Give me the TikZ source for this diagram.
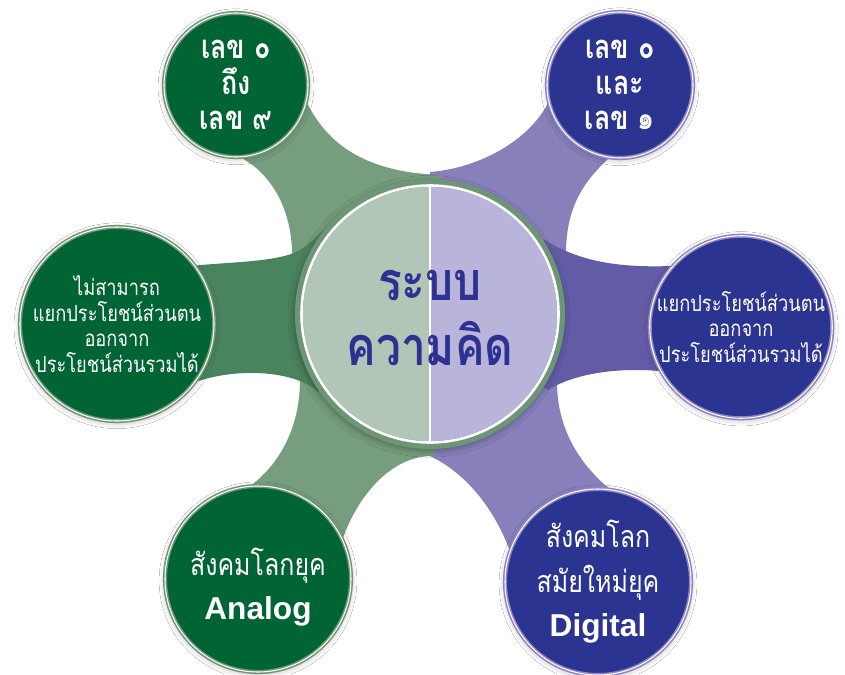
\documentclass[tikz,border=0pt]{standalone}
\usepackage{fontspec}
\newfontfamily\thaifont[Script=Thai, FakeStretch=0.82]{Loma}
\newfontfamily\latinfont{Liberation Sans}
\usetikzlibrary{calc,shadows.blur}
\pgfdeclarelayer{background}
\pgfsetlayers{background,main}

\definecolor{deepgreen}{RGB}{0,100,52}
\definecolor{sage}{RGB}{118,158,126}
\definecolor{moss}{RGB}{74,132,95}
\definecolor{greenrim}{RGB}{110,150,118}
\definecolor{deepblue}{RGB}{44,52,145}
\definecolor{lilac}{RGB}{135,128,187}
\definecolor{violet}{RGB}{98,91,166}
\definecolor{bluerim}{RGB}{140,132,196}
\definecolor{coreleft}{RGB}{178,198,183}
\definecolor{coreright}{RGB}{185,181,218}
\definecolor{inkblue}{RGB}{46,49,146}

\begin{document}
\begin{tikzpicture}[
        x=0.03cm, y=-0.03cm,
        ball/.style={circle, inner sep=0pt, outer sep=0pt, minimum size=#1,
                     line width=1.3pt, double=white, double distance=0.9pt,
                     align=center, text=white,
                     blur shadow={shadow xshift=0pt, shadow yshift=-1.5pt,
                                  shadow blur radius=5pt, shadow opacity=30}},
        greenball/.style={ball=#1, fill=deepgreen, draw=greenrim},
        blueball/.style={ball=#1, fill=deepblue, draw=bluerim},
        small/.style={font=\thaifont\fontsize{19}{22}\selectfont},
        large/.style={font=\thaifont\bfseries\fontsize{28}{30}\selectfont},
        wide/.style={font=\thaifont\fontsize{26}{38}\selectfont}
    ]
        \useasboundingbox (0,0) rectangle (845,674);

        % centre
        \node[circle, inner sep=0pt, outer sep=0pt, minimum size=8.1cm, fill=greenrim,
              blur shadow={shadow xshift=-1pt, shadow yshift=-2pt, shadow blur radius=5pt, shadow opacity=30}]
              (core) at (430,314) {};
        \begin{scope}
            \clip (core.center) circle[radius=127];
            \fill[coreleft] ($(core.center)+(-130,-130)$) rectangle ($(core.center)+(0,130)$);
            \fill[coreright] ($(core.center)+(0,-130)$) rectangle ($(core.center)+(130,130)$);
        \end{scope}
        \draw[white, line width=2.2pt] (core.center) circle[radius=128.5];
        \draw[white, line width=2pt] ($(core.center)+(0,-128)$) -- ($(core.center)+(0,128)$);
        \node[font=\thaifont\bfseries\fontsize{46}{55}\selectfont, text=inkblue, align=center]
              (title) at (430,318) {ระบบ\\ความคิด};

        % outer balls
        \node[greenball=4.32cm, large] (zeronine) at (236,85) {เลข ๐\\ถึง\\เลข ๙};
        \node[blueball=4.38cm, large] (zeroone) at (620,85) {เลข ๐\\และ\\เลข ๑};
        \node[greenball=5.34cm, small] (noself) at (117,324)
              {ไม่สามารถ\\แยกประโยชน์ส่วนตน\\ออกจาก\\ประโยชน์ส่วนรวมได้};
        \node[blueball=5.34cm, small] (self) at (741,327)
              {แยกประโยชน์ส่วนตน\\ออกจาก\\ประโยชน์ส่วนรวมได้};
        \node[greenball=5.58cm, wide] (analog) at (258,579)
              {\raisebox{-7pt}[\height][\depth]{สังคมโลกยุค}\\
               \raisebox{-7pt}[\height][\depth]{\latinfont\bfseries\fontsize{27}{38}\selectfont Analog}};
        \node[blueball=5.58cm, wide] (digital) at (598,582)
              {สังคมโลก\\สมัยใหม่ยุค\\{\latinfont\bfseries\fontsize{27}{38}\selectfont Digital}};

        \begin{pgfonlayer}{background}
            \fill[white] (0,0) rectangle (845,674);
            % lilac sweep
            \fill[lilac] (zeroone.center) -- (zeroone.-98) .. controls (585,180) and (567,205) .. (566,250)
                -- (557,385) .. controls (558,430) and (580,465) .. (digital.82) -- (digital.center)
                -- (digital.161) .. controls (497,515) and (470,475) .. (430,456)
                -- (430,172) .. controls (480,168) and (530,140) .. (zeroone.193) -- cycle;
            % sage sweep
            \fill[sage] (zeronine.center) -- (zeronine.-13) .. controls (325,140) and (360,172) .. (440,175)
                -- (434,456) .. controls (395,455) and (360,490) .. (analog.25) -- (analog.center)
                -- (analog.95) .. controls (285,460) and (300,420) .. (300,380)
                -- (292,250) .. controls (290,200) and (265,170) .. (zeronine.-87) -- cycle;
            % side arms
            \fill[moss] (noself.center) -- (noself.37) .. controls (230,262) and (280,262) .. (300,250)
                .. controls (312,242) and (322,232) .. (332,222) -- (core.center)
                -- (318,392) .. controls (298,372) and (240,366) .. (noself.-37) -- cycle;
            \fill[violet] (self.center) -- (self.138) .. controls (620,268) and (580,262) .. (545,240)
                -- (core.center) -- (548,390) .. controls (580,370) and (630,368) .. (self.209) -- cycle;
        \end{pgfonlayer}
    \end{tikzpicture}
\end{document}
